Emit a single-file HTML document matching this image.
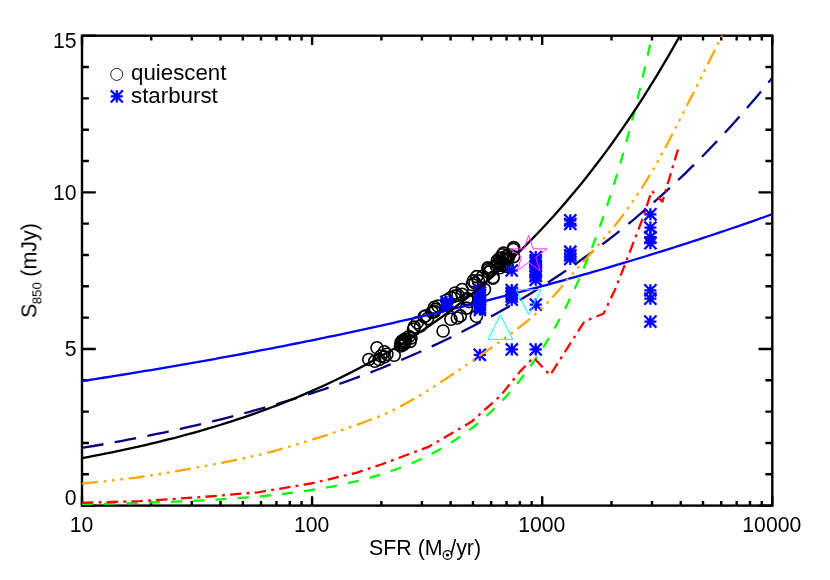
<!DOCTYPE html>
<html><head><meta charset="utf-8"><title>S850 vs SFR</title>
<style>html,body{margin:0;padding:0;background:#fff}svg{display:block}text{font-family:"Liberation Sans",sans-serif}</style></head>
<body>
<svg width="830" height="580" viewBox="0 0 830 580">
<rect width="830" height="580" fill="#fff"/>
<defs><clipPath id="c"><rect x="82" y="35.7" width="690.3" height="469.9"/></clipPath>
<g id="a"><path d="M-6.05 0H6.05 M0 -6.05V6.05 M-6.05 -6.05L6.05 6.05 M-6.05 6.05L6.05 -6.05" fill="none" stroke="#00f" stroke-width="2.3"/></g>
<circle id="o" r="6" fill="none" stroke="#000" stroke-width="1.6"/>
</defs>
<g stroke="#000" stroke-width="2.4" fill="none">
<rect x="82" y="35.7" width="690.3" height="469.9"/>
<path d="M82 505.6v-9.4 M82 35.7v9.4 M151.27 505.6v-4.7 M151.27 35.7v4.7 M191.79 505.6v-4.7 M191.79 35.7v4.7 M220.53 505.6v-4.7 M220.53 35.7v4.7 M242.83 505.6v-4.7 M242.83 35.7v4.7 M261.05 505.6v-4.7 M261.05 35.7v4.7 M276.46 505.6v-4.7 M276.46 35.7v4.7 M289.8 505.6v-4.7 M289.8 35.7v4.7 M301.57 505.6v-4.7 M301.57 35.7v4.7 M312.1 505.6v-9.4 M312.1 35.7v9.4 M381.37 505.6v-4.7 M381.37 35.7v4.7 M421.89 505.6v-4.7 M421.89 35.7v4.7 M450.63 505.6v-4.7 M450.63 35.7v4.7 M472.93 505.6v-4.7 M472.93 35.7v4.7 M491.15 505.6v-4.7 M491.15 35.7v4.7 M506.56 505.6v-4.7 M506.56 35.7v4.7 M519.9 505.6v-4.7 M519.9 35.7v4.7 M531.67 505.6v-4.7 M531.67 35.7v4.7 M542.2 505.6v-9.4 M542.2 35.7v9.4 M611.47 505.6v-4.7 M611.47 35.7v4.7 M651.99 505.6v-4.7 M651.99 35.7v4.7 M680.73 505.6v-4.7 M680.73 35.7v4.7 M703.03 505.6v-4.7 M703.03 35.7v4.7 M721.25 505.6v-4.7 M721.25 35.7v4.7 M736.66 505.6v-4.7 M736.66 35.7v4.7 M750 505.6v-4.7 M750 35.7v4.7 M761.77 505.6v-4.7 M761.77 35.7v4.7 M772.3 505.6v-9.4 M772.3 35.7v9.4 M82 505.6h13.8 M772.3 505.6h-13.8 M82 474.27h6.9 M772.3 474.27h-6.9 M82 442.95h6.9 M772.3 442.95h-6.9 M82 411.62h6.9 M772.3 411.62h-6.9 M82 380.29h6.9 M772.3 380.29h-6.9 M82 348.97h13.8 M772.3 348.97h-13.8 M82 317.64h6.9 M772.3 317.64h-6.9 M82 286.31h6.9 M772.3 286.31h-6.9 M82 254.99h6.9 M772.3 254.99h-6.9 M82 223.66h6.9 M772.3 223.66h-6.9 M82 192.33h13.8 M772.3 192.33h-13.8 M82 161.01h6.9 M772.3 161.01h-6.9 M82 129.68h6.9 M772.3 129.68h-6.9 M82 98.35h6.9 M772.3 98.35h-6.9 M82 67.03h6.9 M772.3 67.03h-6.9 M82 35.7h13.8 M772.3 35.7h-13.8"/>
</g>
<g clip-path="url(#c)" fill="none" stroke-linejoin="round">
</g>
<g>
<use href="#o" x="368.8" y="359.5"/>
<use href="#o" x="377" y="347.8"/>
<use href="#o" x="374.8" y="361.2"/>
<use href="#o" x="379.1" y="359.5"/>
<use href="#o" x="384.3" y="351.7"/>
<use href="#o" x="384.3" y="356.9"/>
<use href="#o" x="386.9" y="354.3"/>
<use href="#o" x="380.9" y="356"/>
<use href="#o" x="394.2" y="355.2"/>
<use href="#o" x="400.5" y="346"/>
<use href="#o" x="401.5" y="344.5"/>
<use href="#o" x="402.5" y="343"/>
<use href="#o" x="403.3" y="342"/>
<use href="#o" x="404" y="340.5"/>
<use href="#o" x="405" y="339"/>
<use href="#o" x="402" y="341"/>
<use href="#o" x="404.5" y="343.5"/>
<use href="#o" x="403" y="345"/>
<use href="#o" x="405.5" y="341.5"/>
<use href="#o" x="401" y="342.5"/>
<use href="#o" x="410.2" y="341.4"/>
<use href="#o" x="411" y="338"/>
<use href="#o" x="409" y="336.5"/>
<use href="#o" x="413.6" y="329.3"/>
<use href="#o" x="414.2" y="327.1"/>
<use href="#o" x="417.2" y="322.8"/>
<use href="#o" x="420.5" y="325.9"/>
<use href="#o" x="424.1" y="316.7"/>
<use href="#o" x="425.8" y="315.8"/>
<use href="#o" x="427.5" y="318.5"/>
<use href="#o" x="434.5" y="307.2"/>
<use href="#o" x="434.5" y="311.6"/>
<use href="#o" x="435.3" y="309.4"/>
<use href="#o" x="432.2" y="312.1"/>
<use href="#o" x="438" y="306"/>
<use href="#o" x="476.4" y="316.2"/>
<use href="#o" x="443.1" y="331"/>
<use href="#o" x="450.9" y="319.3"/>
<use href="#o" x="457.3" y="318"/>
<use href="#o" x="460.3" y="315.9"/>
<use href="#o" x="466.4" y="308.1"/>
<use href="#o" x="447" y="300"/>
<use href="#o" x="451" y="297.5"/>
<use href="#o" x="455.2" y="296"/>
<use href="#o" x="458" y="295.2"/>
<use href="#o" x="462" y="294.3"/>
<use href="#o" x="467.2" y="298.6"/>
<use href="#o" x="462.1" y="289.5"/>
<use href="#o" x="455.2" y="293"/>
<use href="#o" x="467.2" y="299.8"/>
<use href="#o" x="469" y="301.5"/>
<use href="#o" x="473.3" y="280.9"/>
<use href="#o" x="476.7" y="276.6"/>
<use href="#o" x="478.4" y="280.9"/>
<use href="#o" x="472.2" y="284.5"/>
<use href="#o" x="475" y="283"/>
<use href="#o" x="484.5" y="289.5"/>
<use href="#o" x="482.6" y="276.4"/>
<use href="#o" x="487.9" y="267.9"/>
<use href="#o" x="488.8" y="272.2"/>
<use href="#o" x="488.6" y="269.5"/>
<use href="#o" x="490.5" y="270.5"/>
<use href="#o" x="493.1" y="277.4"/>
<use href="#o" x="492.9" y="278.1"/>
<use href="#o" x="497.2" y="260.9"/>
<use href="#o" x="499.8" y="267.8"/>
<use href="#o" x="502.4" y="254.8"/>
<use href="#o" x="505.9" y="259.1"/>
<use href="#o" x="500" y="261.9"/>
<use href="#o" x="501.2" y="262.7"/>
<use href="#o" x="503.6" y="253.1"/>
<use href="#o" x="504.8" y="260.3"/>
<use href="#o" x="507.2" y="266.4"/>
<use href="#o" x="501.8" y="258"/>
<use href="#o" x="504.4" y="263.2"/>
<use href="#o" x="506.2" y="256.2"/>
<use href="#o" x="497.8" y="263.6"/>
<use href="#o" x="502.8" y="265.4"/>
<use href="#o" x="508" y="258.6"/>
<use href="#o" x="496.4" y="266"/>
<use href="#o" x="509.2" y="255"/>
<use href="#o" x="499.6" y="258.4"/>
<use href="#o" x="513.6" y="256.6"/>
<use href="#o" x="513.7" y="247.6"/>
<use href="#o" x="513.2" y="249.4"/>
</g>
<g clip-path="url(#c)" fill="none" stroke-linejoin="round">
</g>
<g>
<use href="#a" x="446.4" y="301.9"/>
<use href="#a" x="447" y="304.3"/>
<use href="#a" x="447.6" y="306.7"/>
<use href="#a" x="479.9" y="290"/>
<use href="#a" x="479.9" y="292.5"/>
<use href="#a" x="479.9" y="295"/>
<use href="#a" x="479.9" y="297.5"/>
<use href="#a" x="479.9" y="300"/>
<use href="#a" x="479.9" y="302.5"/>
<use href="#a" x="479.9" y="305"/>
<use href="#a" x="479.9" y="307.5"/>
<use href="#a" x="479.9" y="309.8"/>
<use href="#a" x="479.8" y="354.8"/>
<use href="#a" x="511.7" y="270.5"/>
<use href="#a" x="511.7" y="290"/>
<use href="#a" x="511.7" y="293.2"/>
<use href="#a" x="511.7" y="296.5"/>
<use href="#a" x="511.7" y="299.7"/>
<use href="#a" x="511.8" y="349.4"/>
<use href="#a" x="535.7" y="257"/>
<use href="#a" x="535.7" y="260.3"/>
<use href="#a" x="535.7" y="262.8"/>
<use href="#a" x="535.7" y="266.1"/>
<use href="#a" x="535.7" y="269.8"/>
<use href="#a" x="535.7" y="272.3"/>
<use href="#a" x="535.7" y="276"/>
<use href="#a" x="535.7" y="279.8"/>
<use href="#a" x="535.8" y="304.6"/>
<use href="#a" x="535.7" y="349.4"/>
<use href="#a" x="570.3" y="220.3"/>
<use href="#a" x="570.3" y="224"/>
<use href="#a" x="570.3" y="251.7"/>
<use href="#a" x="570.3" y="255.3"/>
<use href="#a" x="570.3" y="259"/>
<use href="#a" x="650.4" y="214.3"/>
<use href="#a" x="650.4" y="227.6"/>
<use href="#a" x="650.4" y="237.2"/>
<use href="#a" x="650.4" y="243.2"/>
<use href="#a" x="650.4" y="290.3"/>
<use href="#a" x="650.4" y="298.7"/>
<use href="#a" x="650.4" y="321.6"/>
</g>
<use href="#a" x="116.8" y="96.4"/>
<g clip-path="url(#c)" fill="none" stroke-linejoin="round">
<path d="M82 381.08 L87.75 380.19 L93.51 379.3 L99.26 378.4 L105.01 377.5 L110.76 376.59 L116.51 375.67 L122.27 374.74 L128.02 373.81 L133.77 372.88 L139.53 371.93 L145.28 370.98 L151.03 370.03 L156.78 369.06 L162.53 368.09 L168.29 367.11 L174.04 366.13 L179.79 365.14 L185.54 364.14 L191.3 363.13 L197.05 362.12 L202.8 361.1 L208.55 360.07 L214.31 359.04 L220.06 357.99 L225.81 356.94 L231.56 355.89 L237.32 354.82 L243.07 353.75 L248.82 352.67 L254.57 351.58 L260.33 350.49 L266.08 349.38 L271.83 348.27 L277.59 347.16 L283.34 346.03 L289.09 344.89 L294.84 343.75 L300.59 342.6 L306.35 341.44 L312.1 340.27 L317.85 339.1 L323.6 337.91 L329.36 336.72 L335.11 335.52 L340.86 334.31 L346.61 333.09 L352.37 331.87 L358.12 330.63 L363.87 329.39 L369.62 328.13 L375.38 326.87 L381.13 325.6 L386.88 324.32 L392.63 323.03 L398.39 321.73 L404.14 320.43 L409.89 319.11 L415.65 317.78 L421.4 316.45 L427.15 315.1 L432.9 313.75 L438.66 312.39 L444.41 311.01 L450.16 309.63 L455.91 308.23 L461.66 306.83 L467.42 305.42 L473.17 303.99 L478.92 302.56 L484.68 301.12 L490.43 299.66 L496.18 298.2 L501.93 296.72 L507.69 295.24 L513.44 293.74 L519.19 292.24 L524.94 290.72 L530.7 289.19 L536.45 287.65 L542.2 286.1 L547.95 284.54 L553.71 282.97 L559.46 281.39 L565.21 279.79 L570.96 278.19 L576.71 276.57 L582.47 274.94 L588.22 273.3 L593.97 271.65 L599.73 269.98 L605.48 268.31 L611.23 266.62 L616.98 264.92 L622.74 263.21 L628.49 261.49 L634.24 259.75 L639.99 258 L645.75 256.24 L651.5 254.47 L657.25 252.68 L663 250.89 L668.75 249.07 L674.51 247.25 L680.26 245.41 L686.01 243.56 L691.76 241.7 L697.52 239.82 L703.27 237.93 L709.02 236.03 L714.77 234.11 L720.53 232.18 L726.28 230.24 L732.03 228.28 L737.78 226.31 L743.54 224.32 L749.29 222.32 L755.04 220.31 L760.79 218.28 L766.55 216.24 L772.3 214.18" stroke="#0000ff" stroke-width="2.3"/>
<path d="M82 447.96 L87.75 446.99 L93.51 446 L99.26 445 L105.01 443.98 L110.76 442.94 L116.51 441.88 L122.27 440.81 L128.02 439.72 L133.77 438.61 L139.53 437.48 L145.28 436.33 L151.03 435.16 L156.78 433.98 L162.53 432.77 L168.29 431.54 L174.04 430.3 L179.79 429.03 L185.54 427.74 L191.3 426.43 L197.05 425.09 L202.8 423.74 L208.55 422.36 L214.31 420.96 L220.06 419.53 L225.81 418.08 L231.56 416.61 L237.32 415.11 L243.07 413.58 L248.82 412.03 L254.57 410.46 L260.33 408.85 L266.08 407.22 L271.83 405.57 L277.59 403.88 L283.34 402.17 L289.09 400.43 L294.84 398.65 L300.59 396.85 L306.35 395.02 L312.1 393.16 L317.85 391.26 L323.6 389.34 L329.36 387.38 L335.11 385.39 L340.86 383.36 L346.61 381.3 L352.37 379.21 L358.12 377.08 L363.87 374.91 L369.62 372.71 L375.38 370.47 L381.13 368.2 L386.88 365.88 L392.63 363.53 L398.39 361.14 L404.14 358.7 L409.89 356.23 L415.65 353.71 L421.4 351.15 L427.15 348.55 L432.9 345.91 L438.66 343.22 L444.41 340.48 L450.16 337.7 L455.91 334.87 L461.66 332 L467.42 329.07 L473.17 326.1 L478.92 323.07 L484.68 320 L490.43 316.87 L496.18 313.69 L501.93 310.46 L507.69 307.17 L513.44 303.83 L519.19 300.43 L524.94 296.97 L530.7 293.46 L536.45 289.89 L542.2 286.25 L547.95 282.56 L553.71 278.8 L559.46 274.98 L565.21 271.1 L570.96 267.14 L576.71 263.13 L582.47 259.04 L588.22 254.89 L593.97 250.67 L599.73 246.37 L605.48 242.01 L611.23 237.56 L616.98 233.05 L622.74 228.46 L628.49 223.79 L634.24 219.04 L639.99 214.22 L645.75 209.31 L651.5 204.32 L657.25 199.24 L663 194.08 L668.75 188.83 L674.51 183.5 L680.26 178.07 L686.01 172.55 L691.76 166.94 L697.52 161.24 L703.27 155.44 L709.02 149.54 L714.77 143.54 L720.53 137.44 L726.28 131.24 L732.03 124.93 L737.78 118.52 L743.54 112 L749.29 105.37 L755.04 98.63 L760.79 91.77 L766.55 84.8 L772.3 77.71" stroke="#000080" stroke-width="2.3" stroke-dasharray="21.8 11.4"/>
<path d="M82 483.7 L84 483.47 L86 483.24 L88 483.02 L90 482.8 L92 482.58 L94 482.36 L96 482.14 L98 481.92 L100 481.7 L102 481.49 L104 481.27 L106 481.05 L108 480.83 L110 480.61 L112 480.39 L114 480.17 L116 479.95 L118 479.72 L120 479.49 L122 479.26 L124 479.03 L126 478.79 L128 478.55 L130 478.3 L132 478.05 L134 477.8 L136 477.54 L138 477.27 L140 477 L142 476.72 L144 476.44 L146 476.15 L148 475.86 L150 475.56 L152 475.25 L154 474.94 L156 474.63 L158 474.31 L160 473.99 L162 473.66 L164 473.33 L166 472.99 L168 472.65 L170 472.31 L172 471.96 L174 471.62 L176 471.26 L178 470.91 L180 470.55 L182 470.19 L184 469.83 L186 469.47 L188 469.11 L190 468.74 L192 468.38 L194 468.01 L196 467.64 L198 467.27 L200 466.9 L202 466.53 L204 466.16 L206 465.79 L208 465.41 L210 465.04 L212 464.66 L214 464.28 L216 463.9 L218 463.52 L220 463.13 L222 462.75 L224 462.36 L226 461.96 L228 461.56 L230 461.16 L232 460.76 L234 460.35 L236 459.94 L238 459.52 L240 459.1 L242 458.67 L244 458.24 L246 457.81 L248 457.37 L250 456.92 L252 456.47 L254 456.01 L256 455.55 L258 455.08 L260 454.6 L261.96 454.12 L263.92 453.64 L265.88 453.14 L267.85 452.64 L269.81 452.12 L271.77 451.6 L273.73 451.07 L275.69 450.53 L277.65 449.99 L279.62 449.44 L281.58 448.88 L283.54 448.31 L285.5 447.74 L287.46 447.17 L289.42 446.59 L291.38 446 L293.35 445.42 L295.31 444.82 L297.27 444.23 L299.23 443.63 L301.19 443.03 L303.15 442.43 L305.12 441.82 L307.08 441.21 L309.04 440.61 L311 440 L312.97 439.39 L314.93 438.78 L316.9 438.16 L318.87 437.55 L320.83 436.93 L322.8 436.3 L324.77 435.68 L326.73 435.05 L328.7 434.42 L330.67 433.78 L332.63 433.14 L334.6 432.5 L336.57 431.85 L338.53 431.2 L340.5 430.54 L342.47 429.88 L344.43 429.21 L346.4 428.54 L348.37 427.86 L350.33 427.18 L352.3 426.49 L354.27 425.8 L356.23 425.1 L358.2 424.39 L360.17 423.68 L362.13 422.95 L364.1 422.23 L366.07 421.49 L368.03 420.75 L370 420 L371.87 419.28 L373.73 418.56 L375.6 417.82 L377.47 417.07 L379.33 416.32 L381.2 415.54 L383.07 414.75 L384.93 413.94 L386.8 413.12 L388.67 412.27 L390.53 411.4 L392.4 410.5 L394.4 409.52 L396.4 408.51 L398.39 407.49 L400.39 406.45 L402.39 405.39 L404.39 404.32 L406.38 403.23 L408.38 402.12 L410.38 400.99 L412.38 399.85 L414.37 398.7 L416.37 397.53 L418.37 396.34 L420.37 395.15 L422.37 393.93 L424.36 392.71 L426.36 391.48 L428.36 390.23 L430.36 388.97 L432.35 387.7 L434.35 386.42 L436.35 385.14 L438.35 383.84 L440.34 382.53 L442.34 381.22 L444.34 379.9 L446.34 378.57 L448.33 377.23 L450.33 375.89 L452.33 374.54 L454.33 373.18 L456.33 371.83 L458.32 370.46 L460.32 369.1 L462.32 367.73 L464.32 366.35 L466.31 364.98 L468.31 363.6 L470.31 362.22 L472.31 360.84 L474.3 359.46 L476.3 358.08 L478.3 356.7 L480.29 355.33 L482.28 353.96 L484.27 352.58 L486.26 351.21 L488.25 349.84 L490.24 348.47 L492.23 347.09 L494.23 345.7 L496.22 344.31 L498.21 342.92 L500.2 341.51 L502.19 340.1 L504.18 338.67 L506.17 337.24 L508.16 335.79 L510.15 334.33 L512.14 332.85 L514.13 331.36 L516.12 329.85 L518.11 328.33 L520.1 326.78 L522.09 325.21 L524.08 323.63 L526.08 322.02 L528.07 320.38 L530.06 318.73 L532.05 317.04 L534.04 315.33 L536.03 313.59 L538.02 311.83 L540.01 310.03 L542 308.2 L543.91 306.39 L545.82 304.49 L547.74 302.52 L549.65 300.49 L551.56 298.4 L553.47 296.27 L555.38 294.09 L557.29 291.87 L559.21 289.63 L561.12 287.38 L563.03 285.11 L564.94 282.84 L566.85 280.57 L568.76 278.31 L570.68 276.08 L572.59 273.87 L574.5 271.7 L576.46 269.49 L578.43 267.29 L580.39 265.1 L582.36 262.91 L584.32 260.72 L586.29 258.53 L588.25 256.33 L590.21 254.13 L592.18 251.92 L594.14 249.71 L596.11 247.48 L598.07 245.23 L600.04 242.98 L602 240.7 L603.92 238.47 L605.84 236.24 L607.77 234.01 L609.69 231.77 L611.61 229.5 L613.53 227.2 L615.46 224.86 L617.38 222.46 L619.3 220 L621.15 217.58 L623.01 215.11 L624.86 212.61 L626.72 210.06 L628.57 207.48 L630.42 204.86 L632.28 202.2 L634.13 199.51 L635.98 196.78 L637.84 194.01 L639.69 191.21 L641.55 188.37 L643.4 185.5 L645.32 182.47 L647.24 179.37 L649.17 176.21 L651.09 172.99 L653.01 169.72 L654.93 166.4 L656.86 163.04 L658.78 159.64 L660.7 156.2 L662.64 152.67 L664.58 149.07 L666.51 145.4 L668.45 141.68 L670.39 137.92 L672.33 134.15 L674.26 130.37 L676.2 126.6 L678.16 122.79 L680.12 118.98 L682.08 115.15 L684.04 111.31 L686 107.46 L687.95 103.6 L689.91 99.73 L691.87 95.86 L693.83 91.97 L695.79 88.09 L697.75 84.19 L699.71 80.29 L701.67 76.39 L703.63 72.48 L705.59 68.57 L707.55 64.66 L709.5 60.75 L711.46 56.84 L713.42 52.93 L715.38 49.02 L717.34 45.11 L719.3 41.2 L720.65 38.5 L722 35.8 L723.86 32.1 L725.71 28.41 L727.57 24.73 L729.43 21.04 L731.29 17.36 L733.14 13.68 L735 10" stroke="#ffa500" stroke-width="2.3" stroke-dasharray="16 5.72 2.7 5.72 2.7 5.72 2.7 5.72"/>
<path d="M82 504.03 L85.45 503.98 L88.9 503.92 L92.35 503.86 L95.81 503.8 L99.26 503.74 L102.71 503.67 L106.16 503.61 L109.61 503.54 L113.06 503.46 L116.51 503.39 L119.97 503.31 L123.42 503.23 L126.87 503.15 L130.32 503.06 L133.77 502.97 L137.22 502.88 L140.68 502.78 L144.13 502.68 L147.58 502.58 L151.03 502.47 L154.48 502.36 L157.93 502.25 L161.38 502.13 L164.84 502.01 L168.29 501.89 L171.74 501.76 L175.19 501.62 L178.64 501.48 L182.09 501.34 L185.54 501.19 L189 501.03 L192.45 500.87 L195.9 500.7 L199.35 500.53 L202.8 500.35 L206.25 500.17 L209.71 499.98 L213.16 499.78 L216.61 499.58 L220.06 499.36 L223.51 499.15 L226.96 498.92 L230.41 498.68 L233.87 498.44 L237.32 498.19 L240.77 497.93 L244.22 497.66 L247.67 497.38 L251.12 497.09 L254.57 496.79 L258.03 496.48 L261.48 496.16 L264.93 495.83 L268.38 495.49 L271.83 495.13 L275.28 494.76 L278.74 494.38 L282.19 493.99 L285.64 493.58 L289.09 493.16 L292.54 492.72 L295.99 492.27 L299.44 491.8 L302.9 491.31 L306.35 490.81 L309.8 490.29 L313.25 489.76 L316.7 489.2 L320.15 488.62 L323.6 488.03 L327.06 487.41 L330.51 486.77 L333.96 486.11 L337.41 485.42 L340.86 484.71 L344.31 483.98 L347.77 483.22 L351.22 482.43 L354.67 481.62 L358.12 480.78 L361.57 479.9 L365.02 479 L368.47 478.07 L371.93 477.1 L375.38 476.1 L378.83 475.06 L382.28 473.99 L385.73 472.87 L389.18 471.72 L392.63 470.53 L396.09 469.3 L399.54 468.03 L402.99 466.71 L406.44 465.34 L409.89 463.92 L413.34 462.46 L416.8 460.94 L420.25 459.37 L423.7 457.75 L427.15 456.07 L430.6 454.33 L434.05 452.53 L437.5 450.66 L440.96 448.73 L444.41 446.73 L447.86 444.66 L451.31 442.52 L454.76 440.3 L458.21 438.01 L461.66 435.63 L465.12 433.18 L468.57 430.63 L472.02 428 L475.47 425.27 L478.92 422.45 L482.37 419.52 L485.83 416.5 L489.28 413.37 L492.73 410.13 L496.18 406.77 L499.63 403.3 L503.08 399.7 L506.53 395.98 L509.99 392.13 L513.44 388.14 L516.89 384.01 L520.34 379.74 L523.79 375.32 L527.24 370.74 L530.7 366 L534.15 361.09 L537.6 356.02 L541.05 350.76 L544.5 345.32 L547.95 339.69 L551.4 333.85 L554.86 327.82 L558.31 321.57 L561.76 315.1 L565.21 308.41 L568.66 301.48 L572.11 294.31 L575.56 286.88 L579.02 279.2 L582.47 271.24 L585.92 263 L589.37 254.48 L592.82 245.65 L596.27 236.52 L599.73 227.06 L603.18 217.27 L606.63 207.14 L610.08 196.65 L613.53 185.8 L616.98 174.56 L620.43 162.92 L623.89 150.88 L627.34 138.42 L630.79 125.51 L634.24 112.15 L637.69 98.33 L641.14 84.02 L644.59 69.2 L648.05 53.86 L651.5 37.99 L654.95 21.56 L658.4 4.55 L661.85 -13.06 L665.3 -31.29 L668.75 -50.16 L672.21 -69.69 L675.66 -89.9 L679.11 -110.83 L682.56 -132.49 L686.01 -154.92 L689.46 -178.13 L692.92 -202.16 L696.37 -227.03 L699.82 -252.78 L703.27 -279.43 L706.72 -307.01 L710.17 -335.57 L713.62 -365.13 L717.08 -395.73 L720.53 -427.41 L723.98 -460.19 L727.43 -494.13 L730.88 -529.27 L734.33 -565.63 L737.78 -603.28 L741.24 -642.25 L744.69 -682.59 L748.14 -724.34 L751.59 -767.56 L755.04 -812.31 L758.49 -858.62 L761.95 -906.56 L765.4 -956.19 L768.85 -1007.56 L772.3 -1060.73" stroke="#00ff00" stroke-width="2.3" stroke-dasharray="11.13 11.13"/>
<path d="M82 502.8 L140 501.1 L200 497.2 L258 492.3 L311 483.5 L356.3 472.8 L381.3 464.5 L429 446.6 L471.4 421.8 L500.4 395.9 L520 371.6 L533.5 357.6 L550.1 375.2 L584.5 321.3 L603.5 313.7 L614.9 290 L626.2 261.4 L643.4 216.6 L651.7 190.9 L662.4 201.6 L678.1 149" stroke="#ff0000" stroke-width="2.3" stroke-dasharray="11.36 5.23 2.91 5.23"/>
<path d="M82 458.11 L87.75 457.05 L93.51 455.97 L99.26 454.86 L105.01 453.73 L110.76 452.57 L116.51 451.39 L122.27 450.18 L128.02 448.95 L133.77 447.68 L139.53 446.39 L145.28 445.07 L151.03 443.72 L156.78 442.34 L162.53 440.93 L168.29 439.49 L174.04 438.02 L179.79 436.51 L185.54 434.97 L191.3 433.39 L197.05 431.78 L202.8 430.14 L208.55 428.46 L214.31 426.74 L220.06 424.98 L225.81 423.18 L231.56 421.34 L237.32 419.46 L243.07 417.54 L248.82 415.58 L254.57 413.57 L260.33 411.52 L266.08 409.42 L271.83 407.28 L277.59 405.09 L283.34 402.85 L289.09 400.55 L294.84 398.21 L300.59 395.82 L306.35 393.37 L312.1 390.87 L317.85 388.31 L323.6 385.7 L329.36 383.02 L335.11 380.29 L340.86 377.49 L346.61 374.64 L352.37 371.72 L358.12 368.73 L363.87 365.68 L369.62 362.56 L375.38 359.37 L381.13 356.11 L386.88 352.78 L392.63 349.37 L398.39 345.89 L404.14 342.33 L409.89 338.69 L415.65 334.97 L421.4 331.16 L427.15 327.27 L432.9 323.3 L438.66 319.23 L444.41 315.08 L450.16 310.83 L455.91 306.49 L461.66 302.05 L467.42 297.51 L473.17 292.87 L478.92 288.13 L484.68 283.28 L490.43 278.32 L496.18 273.25 L501.93 268.07 L507.69 262.78 L513.44 257.36 L519.19 251.83 L524.94 246.17 L530.7 240.38 L536.45 234.47 L542.2 228.43 L547.95 222.25 L553.71 215.93 L559.46 209.47 L565.21 202.87 L570.96 196.12 L576.71 189.22 L582.47 182.16 L588.22 174.95 L593.97 167.58 L599.73 160.04 L605.48 152.34 L611.23 144.46 L616.98 136.41 L622.74 128.18 L628.49 119.76 L634.24 111.16 L639.99 102.37 L645.75 93.37 L651.5 84.18 L657.25 74.79 L663 65.18 L668.75 55.36 L674.51 45.32 L680.26 35.06 L686.01 24.57 L691.76 13.84 L697.52 2.88 L703.27 -8.33 L709.02 -19.79 L714.77 -31.5 L720.53 -43.48 L726.28 -55.72 L732.03 -68.23 L737.78 -81.03 L743.54 -94.11 L749.29 -107.48 L755.04 -121.15 L760.79 -135.12 L766.55 -149.41 L772.3 -164.01" stroke="#000" stroke-width="2.3"/>
</g>
<circle cx="116.7" cy="74.4" r="6" fill="none" stroke="#222" stroke-width="1"/>
<polygon points="500.4,315 488.1,339.3 512.8,339.3" fill="none" stroke="#00ffff" stroke-width="1"/>
<polygon points="516.2,289.7 541,289.7 528.6,314.5" fill="none" stroke="#00ffff" stroke-width="1"/>
<polygon points="528.6,235.3 533,248.84 547.24,248.84 535.72,257.21 540.12,270.76 528.6,262.39 517.08,270.76 521.48,257.21 509.96,248.84 524.2,248.84" fill="none" stroke="#ff33ff" stroke-width="1"/>
<g opacity="0.999" font-family="Liberation Sans, sans-serif" font-size="21.2" fill="#000">
<text x="76.5" y="48.3" text-anchor="end">15</text>
<text x="76.5" y="199.6" text-anchor="end">10</text>
<text x="76.5" y="356.2" text-anchor="end">5</text>
<text x="76.5" y="505.3" text-anchor="end">0</text>
<text x="81.5" y="532.3" text-anchor="middle">10</text>
<text x="311.6" y="532.3" text-anchor="middle">100</text>
<text x="541.7" y="532.3" text-anchor="middle">1000</text>
<text x="771.8" y="532.3" text-anchor="middle">10000</text>
<text x="131" y="80" font-size="22.3">quiescent</text>
<text x="131" y="103" font-size="22.3">starburst</text>
<text x="369" y="554.7" font-size="21.4">SFR (M</text>
<text x="450.2" y="554.7" font-size="21.4">/yr)</text>
<circle cx="447.5" cy="555" r="4.4" fill="none" stroke="#000" stroke-width="1.1"/><circle cx="447.5" cy="555" r="1.6" fill="#000"/>
<text transform="translate(36.4,318) rotate(-90)" font-size="21.5">S<tspan font-size="13.3" dx="-0.7" dy="4.6">850</tspan><tspan dx="-0.5" dy="-4.6"> (mJy)</tspan></text>
</g>
</svg>
</body></html>
